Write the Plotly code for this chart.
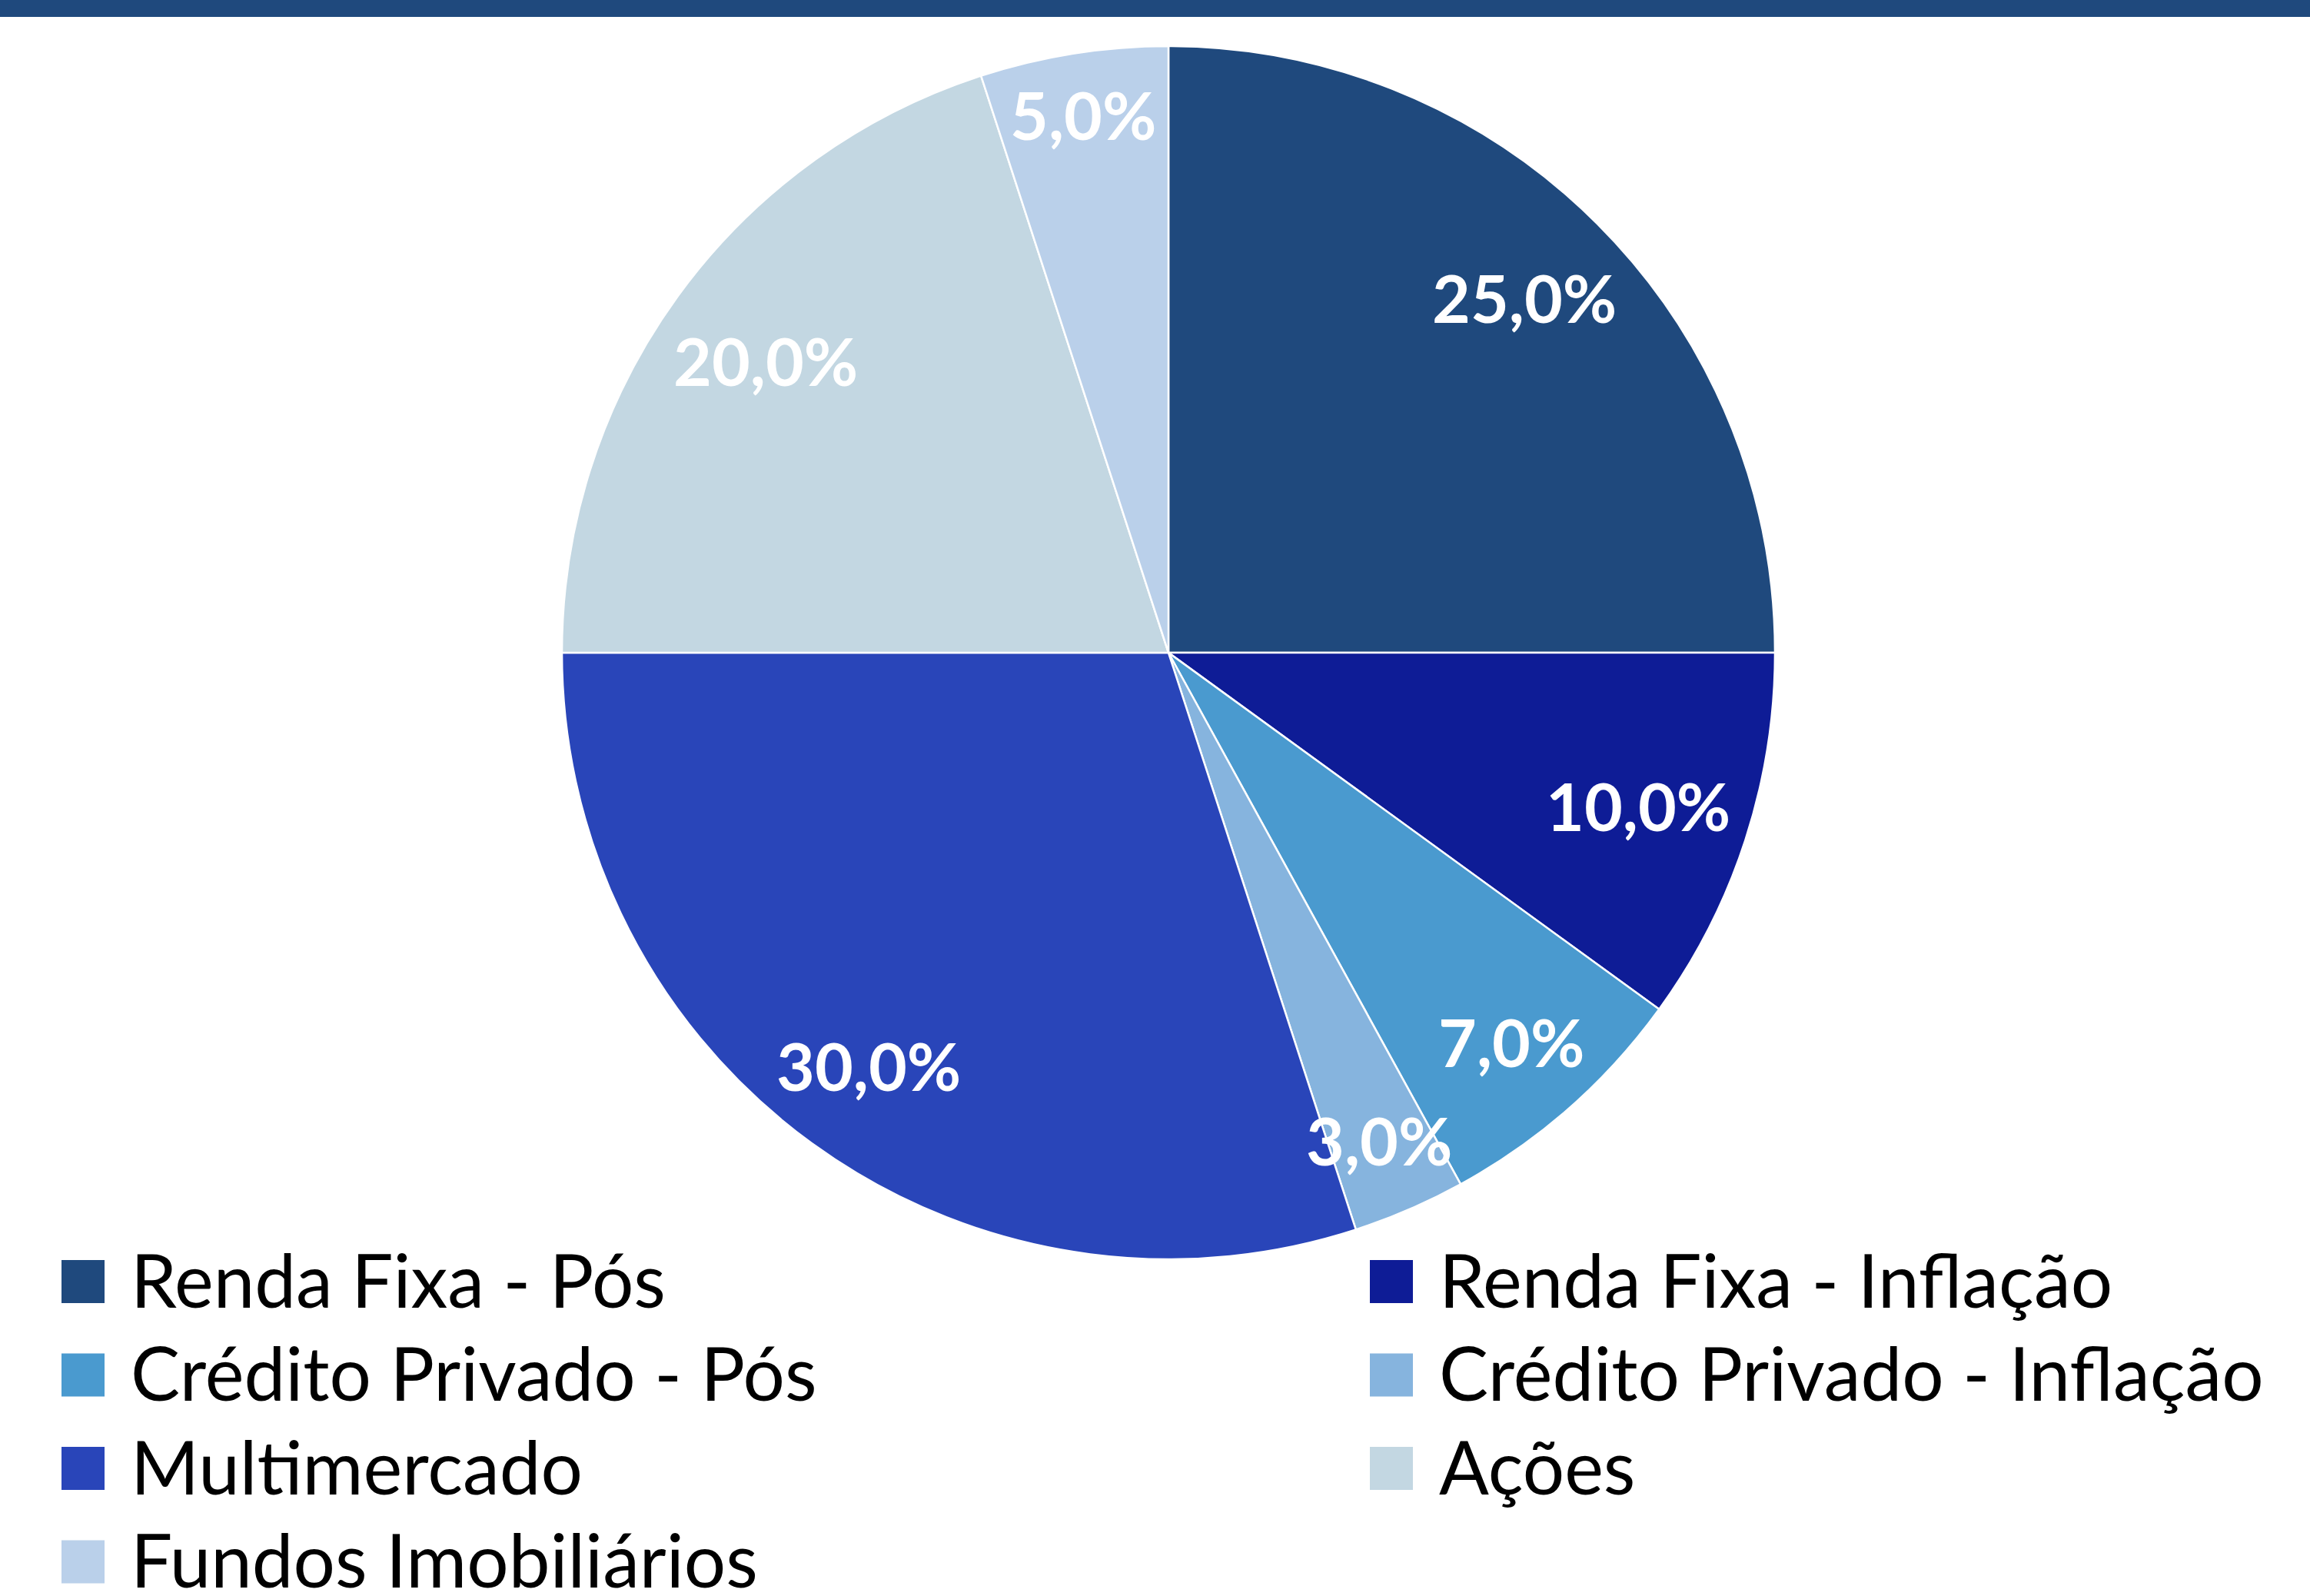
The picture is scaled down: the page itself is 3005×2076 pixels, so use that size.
import math
import plotly.graph_objects as go

W, H = 3005, 2076

categories = ["Renda Fixa - Pós", "Renda Fixa - Inflação", "Crédito Privado - Pós",
              "Crédito Privado - Inflação", "Multimercado", "Ações", "Fundos Imobiliários"]
values = [25.0, 10.0, 7.0, 3.0, 30.0, 20.0, 5.0]
colors = ["#1F497D", "#0E1C96", "#4A9ACF", "#86B4DE", "#2945B9", "#C3D7E2", "#BAD0EA"]

# pie geometry (pixels)
cx, cy, R = 1520, 849, 789
label_font = 86
label_reach = 0.971 * R   # labels sit "inside end": far corner of the label box near the rim

fig = go.Figure()
fig.add_trace(go.Pie(
    labels=categories, values=values, sort=False, direction="clockwise", rotation=0,
    marker=dict(colors=colors, line=dict(color="white", width=2.5)),
    textinfo="none", hoverinfo="label+percent", showlegend=False,
    domain=dict(x=[(cx - R) / W, (cx + R) / W], y=[1 - (cy + R) / H, 1 - (cy - R) / H]),
))

annotations = []
shapes = []

# slice labels along the mid-angle of each slice, pushed toward the rim
total = sum(values)
cum = 0.0
for v in values:
    mid = (cum + v / 2) / total * 2 * math.pi
    cum += v
    txt = f"{v / total * 100:.1f}%".replace(".", ",")
    hw = 0.545 * label_font * len(txt) / 2
    hh = 38
    s, c = abs(math.sin(mid)), abs(math.cos(mid))
    k = s * hw + c * hh
    d = -k + math.sqrt(k * k - (hw * hw + hh * hh - label_reach ** 2))
    px = cx + d * math.sin(mid)
    py = cy - d * math.cos(mid)
    annotations.append(dict(
        x=px / W, y=1 - py / H, xref="paper", yref="paper",
        text=txt, showarrow=False, xanchor="center", yanchor="middle",
        font=dict(family="Lato", size=label_font, color="white", weight="bold"),
    ))

# legend grid (2 columns)
col_x = [80, 1782]
row_y0, row_step, sq = 1667, 121.5, 56
for i, (name, col) in enumerate(zip(categories, colors)):
    r, c = divmod(i, 2)
    x0 = col_x[c]
    yc = row_y0 + r * row_step
    shapes.append(dict(type="rect", xref="paper", yref="paper",
                       x0=x0 / W, x1=(x0 + sq) / W,
                       y0=1 - (yc + sq / 2) / H, y1=1 - (yc - sq / 2) / H,
                       fillcolor=col, line=dict(width=0)))
    annotations.append(dict(
        x=(x0 + 88) / W, y=1 - (yc - 4) / H, xref="paper", yref="paper",
        text=name, showarrow=False, xanchor="left", yanchor="middle",
        font=dict(family="Lato", size=96, color="black"),
    ))

# top banner
shapes.append(dict(type="rect", xref="paper", yref="paper", x0=0, x1=1,
                   y0=1 - 22 / H, y1=1, fillcolor="#1F497D", line=dict(width=0), layer="below"))

fig.update_layout(
    width=W, height=H, margin=dict(l=0, r=0, t=0, b=0),
    paper_bgcolor="white", plot_bgcolor="white",
    separators=",.", shapes=shapes, annotations=annotations,
)

fig.write_html("out.html", config={"displayModeBar": False},
               post_script="document.body.style.margin='0';document.body.style.overflow='hidden';")
